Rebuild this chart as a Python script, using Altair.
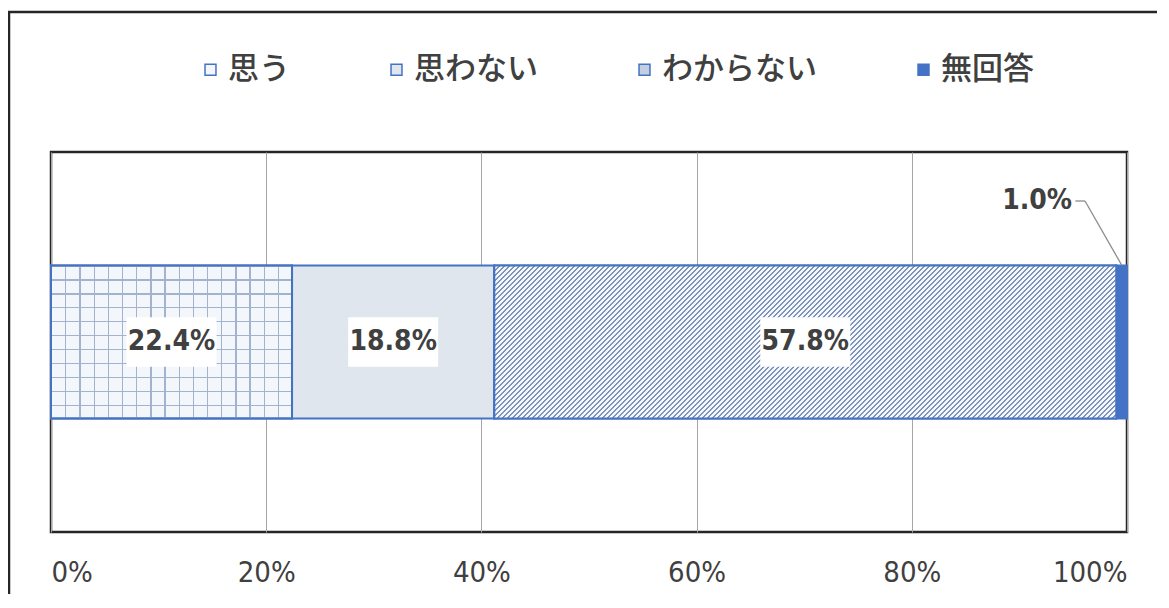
import altair as alt
import pandas as pd

categories = ["思う", "思わない", "わからない", "無回答"]
values = [22.4, 18.8, 57.8, 1.0]
labels = ["22.4%", "18.8%", "57.8%", "1.0%"]
tick_values = [0, 20, 40, 60, 80, 100]

fills = ["#f3f6fb", "#e0e6ee", "#c3cee0", "#4472c4"]
edge = "#4472c4"
narrow = "'DejaVu Sans Condensed', 'Liberation Sans Narrow', Roboto, sans-serif"

df = pd.DataFrame({"cat": categories, "value": values, "label": labels})
df["end"] = df["value"].cumsum()
df["start"] = df["end"] - df["value"]
df["mid"] = (df["start"] + df["end"]) / 2
df["row"] = "all"
df["order"] = range(len(df))

xscale = alt.Scale(domain=[0, 100], nice=False)
yenc = alt.Y("row:N", axis=None)

bars = alt.Chart(df).mark_bar(size=153, stroke=edge, strokeWidth=2).encode(
    x=alt.X("start:Q", scale=xscale,
            axis=alt.Axis(values=tick_values, labelExpr="datum.value + '%'",
                          title=None, grid=True, gridColor="#a6a6a6", gridWidth=1,
                          domain=False, ticks=False, labelPadding=26,
                          labelFont=narrow, labelFontSize=29,
                          labelColor="#404040")),
    x2="end:Q",
    y=yenc,
    color=alt.Color("cat:N", scale=alt.Scale(domain=categories, range=fills),
                    sort=categories,
                    legend=alt.Legend(title=None, orient="none", direction="horizontal",
                                      legendX=144, legendY=-98, columns=4,
                                      columnPadding=91, symbolType="square",
                                      symbolSize=120, symbolStrokeColor=edge,
                                      symbolStrokeWidth=1.5, symbolOpacity=1,
                                      labelFont="Noto Sans CJK JP", labelFontSize=31,
                                      labelFontWeight=500,
                                      labelColor="#404040", labelOffset=2)),
    order="order:Q",
)


def stripes(n, frac, dark, light):
    out = []
    for i in range(n):
        a = i / n
        b = (i + frac) / n
        c = (i + 1) / n
        out += [
            alt.GradientStop(color=dark, offset=a),
            alt.GradientStop(color=dark, offset=b),
            alt.GradientStop(color=light, offset=b),
            alt.GradientStop(color=light, offset=c),
        ]
    return out


clear = "rgba(255,255,255,0)"

# diagonal hatch texture for the "わからない" segment (style only)
hatch = alt.LinearGradient(gradient="linear", stops=stripes(165, 0.4, "#7d93ba", "#f4f7fb"),
                           x1=0, y1=0, x2=1.25, y2=0.3075)
hatched = alt.Chart(df[df["cat"] == "わからない"]).mark_bar(
    size=153, stroke=edge, strokeWidth=2, fill=hatch
).encode(x=alt.X("start:Q", scale=xscale), x2="end:Q", y=yenc)

# grid texture for the "思う" segment (style only)
grid_base = alt.Chart(df[df["cat"] == "思う"])
vlines = alt.LinearGradient(gradient="linear", stops=stripes(17, 0.09, "#a3b3cf", clear),
                            x1=0, y1=0, x2=1, y2=0)
hlines = alt.LinearGradient(gradient="linear", stops=stripes(11, 0.09, "#a3b3cf", clear),
                            x1=0, y1=0, x2=0, y2=1)
grid_v = grid_base.mark_bar(size=153, fill=vlines, strokeWidth=0).encode(
    x=alt.X("start:Q", scale=xscale), x2="end:Q", y=yenc)
grid_h = grid_base.mark_bar(size=153, fill=hlines, stroke=edge, strokeWidth=2).encode(
    x=alt.X("start:Q", scale=xscale), x2="end:Q", y=yenc)

inner = df[df["value"] > 5]
boxes = alt.Chart(inner).mark_point(
    shape="M-1,-0.55H1V0.55H-1Z", size=8100, filled=True, fill="white",
    opacity=1, strokeWidth=0
).encode(x=alt.X("mid:Q", scale=xscale), y=yenc)

texts = alt.Chart(inner).mark_text(
    font=narrow, fontSize=28, fontWeight="bold", color="#404040"
).encode(x=alt.X("mid:Q", scale=xscale), y=yenc, text="label:N")

# small-slice annotation with leader line
small = df[df["value"] <= 5].copy()
small["lx"] = [94.9]
small["k1"] = [95.2]
small["k2"] = [96.1]
small_text = alt.Chart(small).mark_text(
    font=narrow, fontSize=28, fontWeight="bold", color="#404040",
    align="right", baseline="middle"
).encode(x=alt.X("lx:Q", scale=xscale), y=alt.value(49), text="label:N")
lead1 = alt.Chart(small).mark_rule(color="#8c8c8c", strokeWidth=1.3).encode(
    x=alt.X("k1:Q", scale=xscale), x2="k2:Q", y=alt.value(49), y2=alt.value(49))
lead2 = alt.Chart(small).mark_rule(color="#8c8c8c", strokeWidth=1.3).encode(
    x=alt.X("k2:Q", scale=xscale), x2="mid:Q", y=alt.value(49), y2=alt.value(113))

frame = alt.Chart(df.head(1)).mark_rect(
    fill=None, stroke="#262626", strokeWidth=2.5, clip=False
).encode(x=alt.value(-42), x2=alt.value(1300), y=alt.value(-140), y2=alt.value(700))

chart = alt.layer(frame, bars, hatched, grid_v, grid_h, boxes, texts, lead1, lead2,
                  small_text).properties(
    width=1076, height=380,
    autosize=alt.AutoSizeParams(type="none"),
    padding={"left": 43, "top": 144, "right": 30, "bottom": 62},
).configure(background="white").configure_view(stroke="#262626", strokeWidth=2.5)

chart.save("out.html", embed_options={"renderer": "svg", "actions": False})
